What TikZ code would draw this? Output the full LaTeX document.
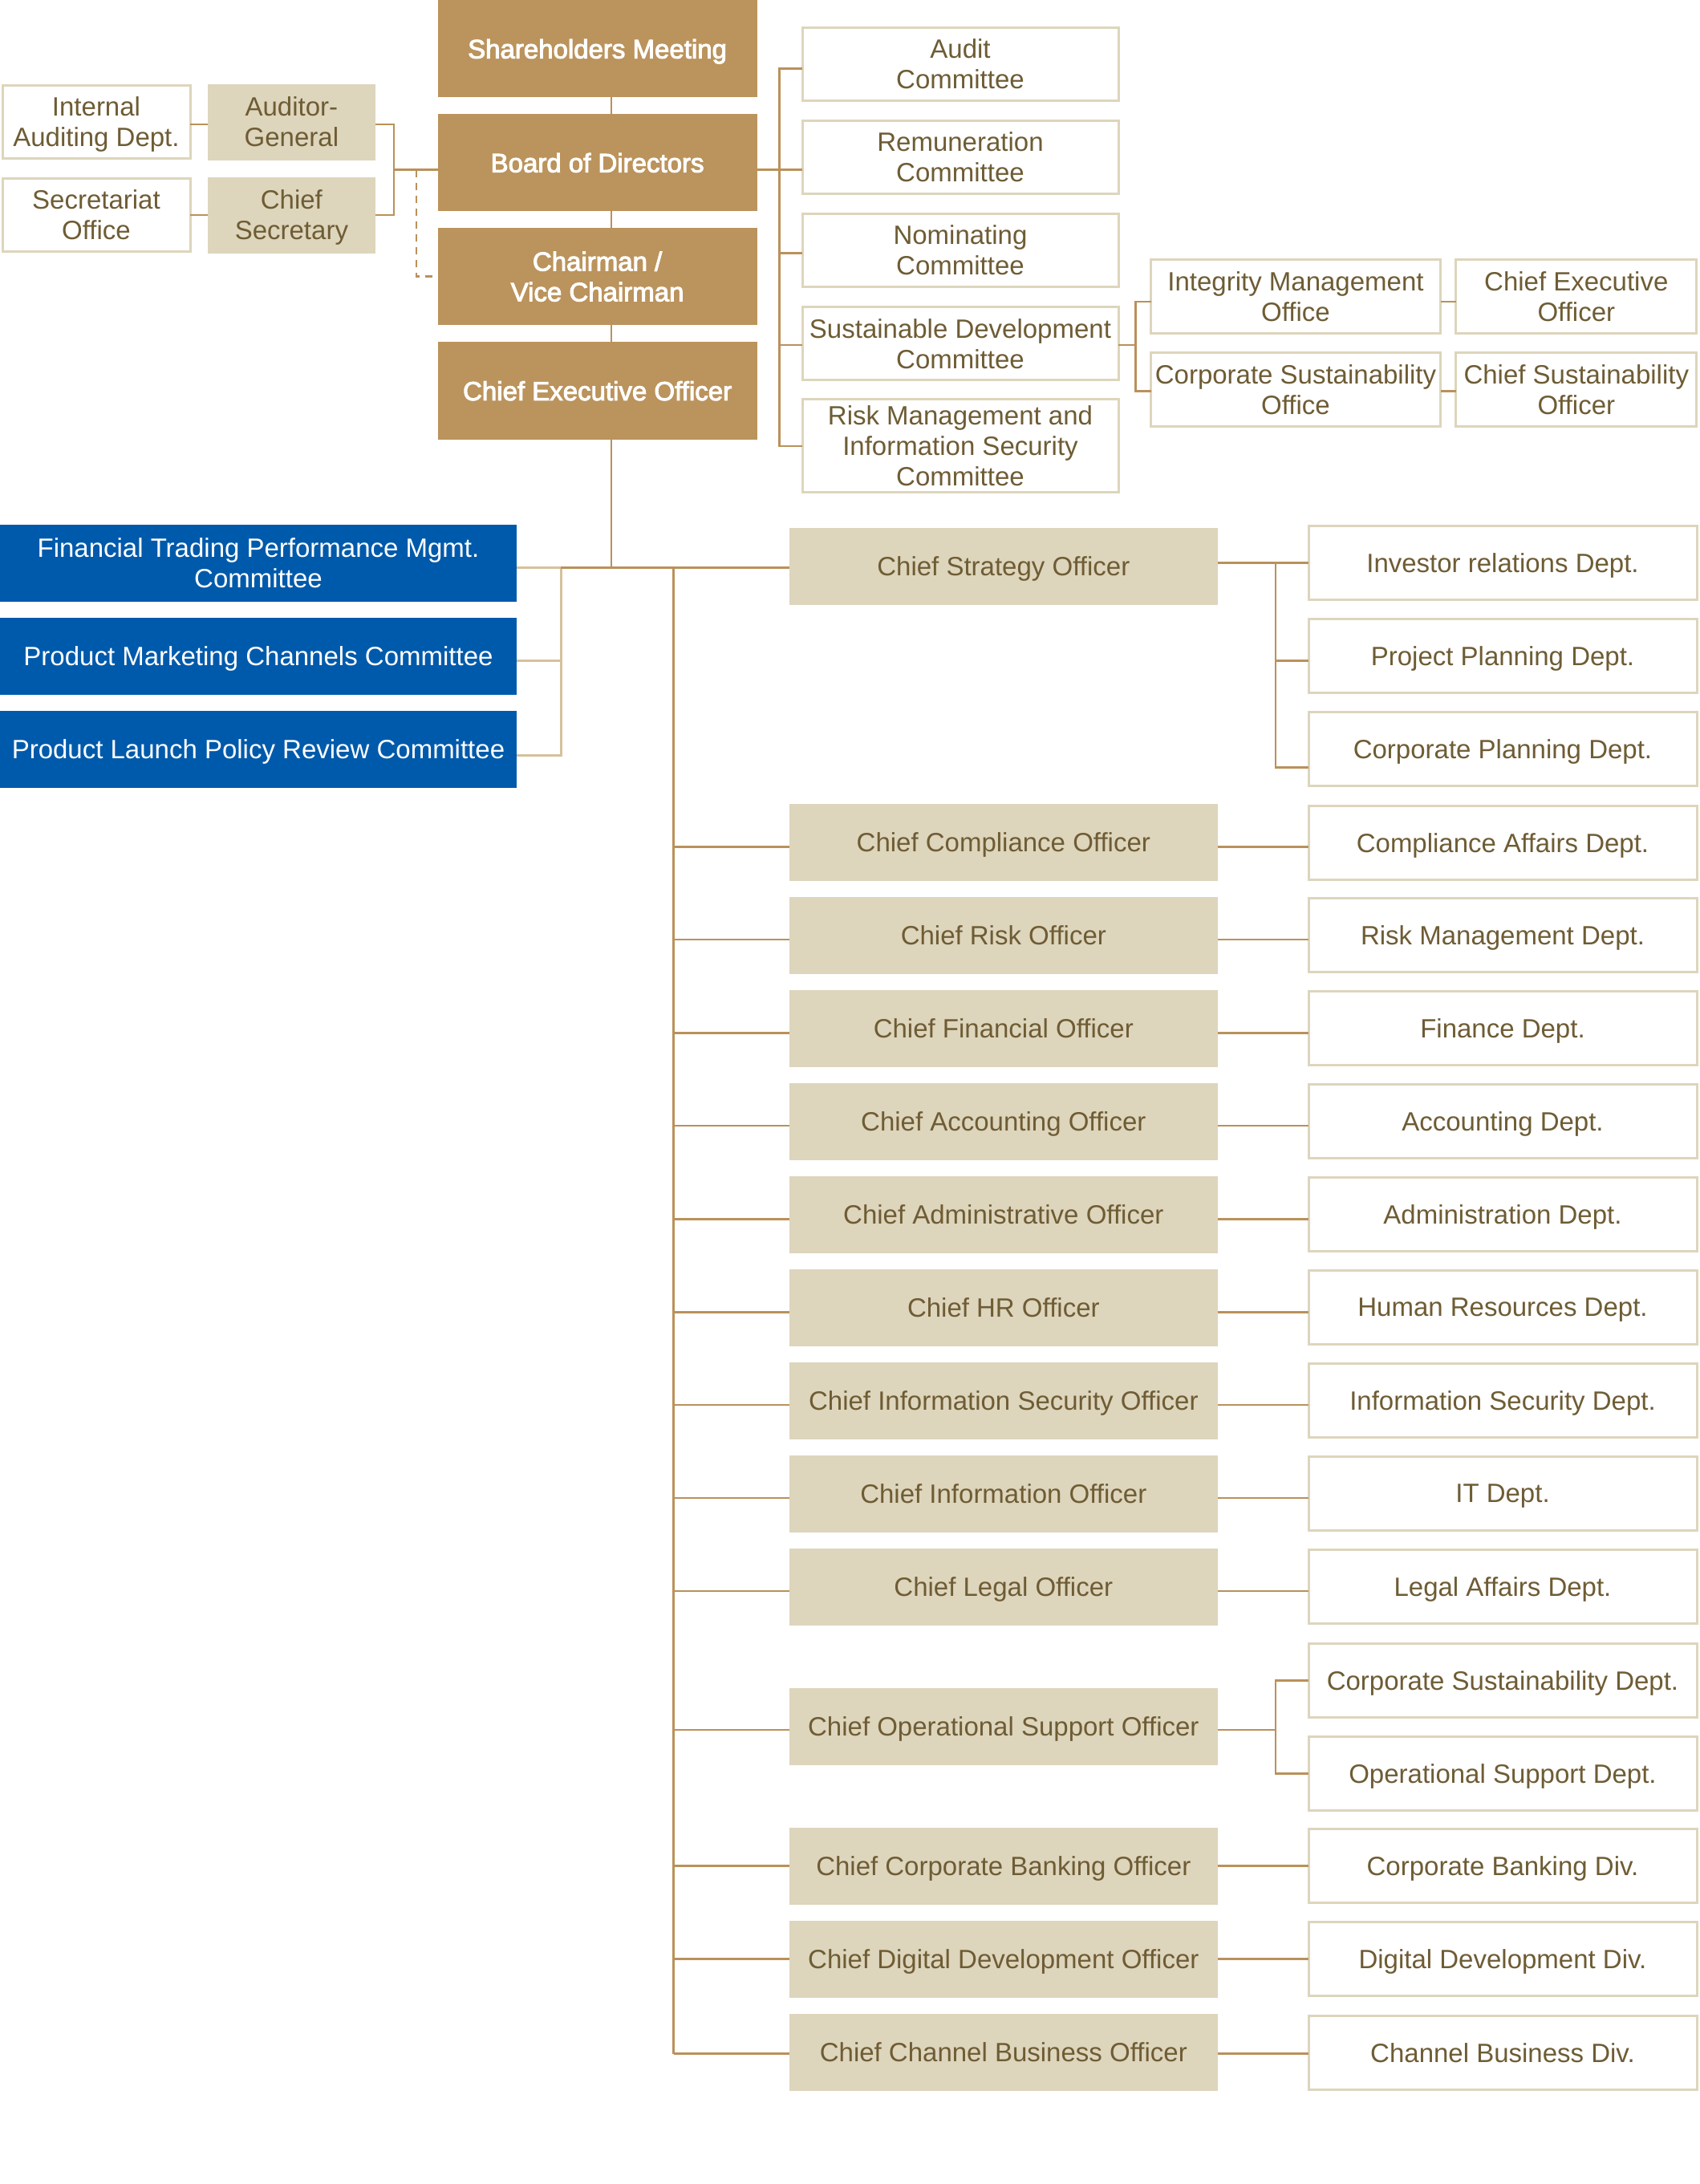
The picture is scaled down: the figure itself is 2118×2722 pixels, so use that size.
\documentclass[tikz,border=0pt]{standalone}
\usepackage{fontspec}
\setmainfont{Liberation Sans}
\newfontfamily\medfont[FakeBold=3]{Liberation Sans}
\definecolor{gold}{HTML}{BB935C}
\definecolor{beige}{HTML}{DDD5BC}
\definecolor{txt}{HTML}{6E5C34}
\definecolor{navy}{HTML}{005AAB}
\definecolor{ln}{HTML}{BA915A}
\definecolor{lnlight}{HTML}{D6C19C}
\begin{document}
\begin{tikzpicture}[x=1pt,y=-1pt,
  base/.style={inner sep=0pt, outer sep=0pt, align=center, text depth=0pt, font=\fontsize{33}{38}\selectfont},
  goldbox/.style={base, fill=gold, text=white, font=\fontsize{33}{38}\selectfont\medfont, minimum width=398pt, minimum height=121.5pt},
  beigebox/.style={base, fill=beige, text=txt},
  wbox/.style={base, draw=beige, line width=3pt, fill=white, text=txt},
  bluebox/.style={base, fill=navy, text=white, minimum width=644pt, minimum height=95.7pt},
  offbox/.style={beigebox, minimum width=533.5pt, minimum height=95.5pt},
  deptbox/.style={wbox, minimum width=484pt, minimum height=92pt},
  combox/.style={wbox, minimum width=394pt, minimum height=91.5pt},
  conn/.style={draw=ln, line width=2.6pt},
  connlight/.style={draw=lnlight, line width=3pt},
  dashconn/.style={draw=ln, line width=2.2pt, dash pattern=on 9pt off 7pt},
]
\useasboundingbox[fill=white] (0,0) rectangle (2118,2722);

% ---------- top-left ----------
\node[wbox, minimum width=234pt, minimum height=91pt] (iad) at (120,152) {Internal\\Auditing Dept.};
\node[beigebox, minimum width=209pt, minimum height=95pt] (ag) at (363.4,152) {Auditor-\\General};
\node[wbox, minimum width=234pt, minimum height=91pt] (so) at (120,268) {Secretariat\\Office};
\node[beigebox, minimum width=209pt, minimum height=95pt] (cs) at (363.4,268) {Chief\\Secretary};

% ---------- main column ----------
\node[goldbox] (sm) at (744.6,60.7) {Shareholders Meeting};
\node[goldbox] (bod) at (744.6,202.7) {Board of Directors};
\node[goldbox] (chair) at (744.6,344.5) {Chairman /\\Vice Chairman};
\node[goldbox] (ceo) at (744.6,487) {Chief Executive Officer};

% ---------- committees ----------
\node[combox] (ac) at (1197,79.8) {Audit\\Committee};
\node[combox] (rc) at (1197,196) {Remuneration\\Committee};
\node[combox] (nc) at (1197,312) {Nominating\\Committee};
\node[combox] (sdc) at (1197,428.1) {Sustainable Development\\Committee};
\node[combox, minimum height=115.6pt] (rmc) at (1197,555.7) {Risk Management and\\Information Security\\Committee};

\node[wbox, minimum width=361pt, minimum height=92pt] (imo) at (1615,369.9) {Integrity Management\\Office};
\node[wbox, minimum width=361pt, minimum height=92pt] (cso) at (1615,485.7) {Corporate Sustainability\\Office};
\node[wbox, minimum width=300pt, minimum height=92pt] (ceotwo) at (1964.8,369.9) {Chief Executive\\Officer};
\node[wbox, minimum width=300pt, minimum height=92pt] (csuo) at (1964.8,485.7) {Chief Sustainability\\Officer};

% ---------- blue committees ----------
\node[bluebox] (b1) at (322,701.9) {Financial Trading Performance Mgmt.\\Committee};
\node[bluebox] (b2) at (322,817.9) {Product Marketing Channels Committee};
\node[bluebox] (b3) at (322,933.9) {Product Launch Policy Review Committee};

% ---------- officers ----------
\foreach \n/\y/\t in {
  o1/705.75/Chief Strategy Officer,
  o2/1049.75/Chief Compliance Officer,
  o3/1165.75/Chief Risk Officer,
  o4/1281.75/Chief Financial Officer,
  o5/1397.75/Chief Accounting Officer,
  o6/1513.75/Chief Administrative Officer,
  o7/1629.75/Chief HR Officer,
  o8/1745.75/Chief Information Security Officer,
  o9/1861.75/Chief Information Officer,
  o10/1977.75/Chief Legal Officer,
  o11/2151.75/Chief Operational Support Officer,
  o12/2326/Chief Corporate Banking Officer,
  o13/2441.75/Chief Digital Development Officer,
  o14/2557.75/Chief Channel Business Officer}
  {\node[offbox] (\n) at (1250.8,\y) {\t};}

% ---------- departments ----------
\foreach \n/\y/\t in {
  d1/701.7/Investor relations Dept.,
  d2/817.7/Project Planning Dept.,
  d3/933.7/Corporate Planning Dept.,
  d4/1050.1/Compliance Affairs Dept.,
  d5/1165.4/Risk Management Dept.,
  d6/1281.4/Finance Dept.,
  d7/1397.4/Accounting Dept.,
  d8/1513.4/Administration Dept.,
  d9/1629.4/Human Resources Dept.,
  d10/1745.4/Information Security Dept.,
  d11/1861.4/IT Dept.,
  d12/1977.8/Legal Affairs Dept.,
  d13/2094.2/Corporate Sustainability Dept.,
  d14/2210.4/Operational Support Dept.,
  d15/2325.9/Corporate Banking Div.,
  d16/2441.4/Digital Development Div.,
  d17/2558.1/Channel Business Div.}
  {\node[deptbox] (\n) at (1873,\y) {\t};}

% ---------- helper coordinates ----------
\coordinate (spA) at (762,0);
\coordinate (brL) at (491,0);
\coordinate (dsh) at (518.7,0);
\coordinate (brC) at (971.6,0);
\coordinate (brD) at (1415.6,0);
\coordinate (bb) at (699,0);
\coordinate (sp2) at (839.5,0);
\coordinate (brS) at (1590,0);
\coordinate (r155) at (0,155);
\coordinate (r268) at (0,268);
\coordinate (r211) at (0,211.6);
\coordinate (r85) at (0,85.3);
\coordinate (r315) at (0,315.6);
\coordinate (r430) at (0,430);
\coordinate (r555) at (0,555.8);
\coordinate (r376) at (0,376);
\coordinate (r487) at (0,487.5);
\coordinate (bus) at (0,707.7);
\coordinate (rb2) at (0,823.3);
\coordinate (rb3) at (0,941);
\coordinate (rs1) at (0,701.7);
\coordinate (rs2) at (0,823.3);
\coordinate (rs3) at (0,956.7);
\coordinate (rop) at (0,2155.8);
\coordinate (rop1) at (0,2094.2);
\coordinate (rop2) at (0,2210.4);
\coordinate (rend) at (0,2559.5);

% ---------- top-left connectors ----------
\draw[conn] (iad.east |- r155) -- (ag.west |- r155);
\draw[conn] (so.east |- r268) -- (cs.west |- r268);
\draw[conn] (ag.east |- r155) -- (brL |- r155) -- (brL |- r268) -- (cs.east |- r268);
\draw[conn] (brL |- r211) -- (bod.west |- r211);
\draw[dashconn] (dsh |- r211) -- (dsh |- chair) -- (chair.west);

% ---------- main column connectors ----------
\draw[conn] (sm.south -| spA) -- (bod.north -| spA);
\draw[conn] (bod.south -| spA) -- (chair.north -| spA);
\draw[conn] (chair.south -| spA) -- (ceo.north -| spA);
\draw[conn] (ceo.south -| spA) -- (spA |- bus);

% ---------- committee connectors ----------
\draw[conn] (bod.east |- r211) -- (rc.west |- r211);
\draw[conn] (ac.west |- r85) -- (brC |- r85) -- (brC |- r555) -- (rmc.west |- r555);
\draw[conn] (brC |- r315) -- (nc.west |- r315);
\draw[conn] (brC |- r430) -- (sdc.west |- r430);
\draw[conn] (sdc.east |- r430) -- (brD |- r430);
\draw[conn] (imo.west |- r376) -- (brD |- r376) -- (brD |- r487) -- (cso.west |- r487);
\draw[conn] (imo.east |- r376) -- (ceotwo.west |- r376);
\draw[conn] (cso.east |- r487) -- (csuo.west |- r487);

% ---------- blue bracket & bus ----------
\draw[connlight] (b1.east |- bus) -- (bb |- bus) -- (bb |- rb3) -- (b3.east |- rb3);
\draw[connlight] (bb |- rb2) -- (b2.east |- rb2);
\draw[conn] (bb |- bus) -- (o1.west |- bus);
\draw[conn] (sp2 |- bus) -- (sp2 |- rend);

% ---------- strategy ----------
\draw[conn] (o1.east |- rs1) -- (d1.west |- rs1);
\draw[conn] (brS |- rs1) -- (brS |- rs3) -- (d3.west |- rs3);
\draw[conn] (brS |- rs2) -- (d2.west |- rs2);

% ---------- operational support ----------
\draw[conn] (sp2 |- rop) -- (o11.west |- rop);
\draw[conn] (o11.east |- rop) -- (brS |- rop);
\draw[conn] (d13.west |- rop1) -- (brS |- rop1) -- (brS |- rop2) -- (d14.west |- rop2);

% ---------- simple rows ----------
\foreach \o/\d/\y in {o2/d4/1055.7, o3/d5/1171, o4/d6/1287.6, o5/d7/1403,
  o6/d8/1519.3, o7/d9/1635.2, o8/d10/1751, o9/d11/1866.9, o10/d12/1982.8,
  o12/d15/2325.2, o13/d16/2441.5, o14/d17/2559.5} {
  \coordinate (row\o) at (0,\y);
  \draw[conn] (sp2 |- row\o) -- (\o.west |- row\o);
  \draw[conn] (\o.east |- row\o) -- (\d.west |- row\o);
}
\end{tikzpicture}
\end{document}
